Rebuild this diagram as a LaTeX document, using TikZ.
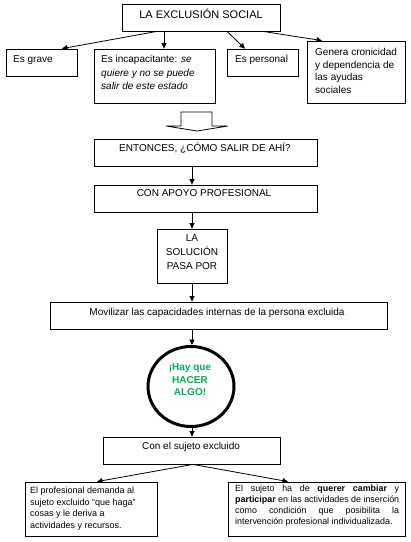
\documentclass[tikz,border=0pt]{standalone}
\usepackage{fontspec}
\setmainfont{Liberation Sans}
\usetikzlibrary{arrows.meta,shapes.geometric}
\definecolor{hacergreen}{RGB}{0,176,80}
\begin{document}
\begin{tikzpicture}[x=1pt,y=-1pt,
  box/.style={draw=black,line width=0.8pt,inner sep=0pt,rectangle},
  arr/.style={line width=0.8pt,-{Triangle[length=5.5pt,width=5pt]}},
  txt/.style={inner sep=0pt,font=\fontsize{10}{13}\selectfont},
  small/.style={inner sep=0pt,font=\fontsize{9}{11.7}\selectfont}]
\useasboundingbox (0,0) rectangle (411,542);
\fill[white] (0,0) rectangle (411,542);
% boxes
\node[box,minimum width=158,minimum height=27] (title) at (201,17.5) {};
\node[box,minimum width=71,minimum height=27] (grave) at (41.5,62.5) {};
\node[box,minimum width=121,minimum height=54] (incap) at (154.5,76) {};
\node[box,minimum width=71,minimum height=27] (pers) at (262.5,62.5) {};
\node[box,minimum width=98,minimum height=62] (gen) at (356,72) {};
\node[box,minimum width=223,minimum height=27] (ent) at (205.5,152.5) {};
\node[box,minimum width=223,minimum height=27] (apo) at (205.5,198.5) {};
\node[box,minimum width=70,minimum height=54] (sol) at (192,256) {};
\node[box,minimum width=337,minimum height=27] (mov) at (218.5,315.5) {};
\node[draw=black,line width=3pt,ellipse,inner sep=0pt,minimum width=86,minimum height=80] (ell) at (191,386.5) {};
\node[box,minimum width=177,minimum height=27] (con) at (191.5,450.5) {};
\node[box,minimum width=132,minimum height=54] (left) at (91,509) {};
\node[box,minimum width=177,minimum height=54] (right) at (316.5,509) {};
% block arrow
\draw[line width=0.8pt,fill=white] (181,112) -- (212,112) -- (212,126) -- (228,126) -- (197,131) -- (166,126) -- (181,126) -- cycle;
% texts
\node[txt,font=\fontsize{11}{13}\selectfont,anchor=base] (ttitle) at (201,18) {LA EXCLUSIÓN SOCIAL};
\node[txt,anchor=base west] (tgrave) at (13,62.6) {Es grave};
\node[txt,anchor=north west,align=left,font=\fontsize{10}{13.5}\selectfont] (tincap) at (101,53.2) {\strut Es incapacitante: \textit{se}\\\textit{quiere y no se puede}\\\textit{salir de este estado}};
\node[txt,anchor=base west] (tpers) at (235,62.3) {Es personal};
\node[txt,anchor=north west,align=left,font=\fontsize{10}{12.5}\selectfont] (tgen) at (315,46.9) {\strut Genera cronicidad\\y dependencia de\\las ayudas\\sociales};
\node[txt,anchor=base] (tent) at (205,151.6) {ENTONCES, ¿CÓMO SALIR DE AHÍ?};
\node[txt,anchor=base] (tapo) at (204,196.8) {CON APOYO PROFESIONAL};
\node[txt,anchor=north,align=center,font=\fontsize{10}{14}\selectfont] (tsol) at (192,231.8) {\strut LA\\SOLUCIÓN\\PASA POR};
\node[txt,anchor=base] (tmov) at (217,315.6) {Movilizar las capacidades internas de la persona excluida};
\node[txt,anchor=north,align=center,text=hacergreen,font=\fontsize{10}{12.5}\selectfont\bfseries] (tell) at (190,361.9) {\strut ¡Hay que\\HACER\\ALGO!};
\node[txt,anchor=base] (tcon) at (191,449.6) {Con el sujeto excluido};
\node[small,anchor=north west,align=left] (tleft) at (30,485) {\strut El profesional demanda al\\sujeto excluido “que haga”\\cosas y le deriva a\\actividades y recursos.};
\node[small,anchor=north west,text width=164pt,align=justify,font=\fontsize{8.9}{11}\selectfont] (tright) at (235,484) {\strut El sujeto ha de \textbf{querer cambiar} y\linebreak \textbf{participar} en las actividades de inserción\linebreak como condición que posibilita la\linebreak intervención profesional individualizada.};
% connectors
\draw[arr] ([xshift=-44pt]title.south) -- ([xshift=20.5pt]grave.north);
\draw[arr] ([xshift=-37pt]title.south) -- ([xshift=9.5pt]incap.north);
\draw[arr] ([xshift=26pt]title.south) -- ([xshift=-17.5pt]pers.north);
\draw[arr] ([xshift=62pt]title.south) -- ([xshift=-34pt]gen.north);
\draw[arr] (ent.south -| sol.north) -- (apo.north -| sol.north);
\draw[arr] (apo.south -| sol.north) -- (sol.north);
\draw[arr] (sol.south) -- (mov.north -| sol.south);
\draw[arr] (mov.south -| sol.south) -- (ell.north -| sol.south);
\draw[arr] (ell.south -| sol.south) -- (con.north -| sol.south);
\draw[arr] ([xshift=1.5pt]con.south) -- ([xshift=6pt]left.north);
\draw[arr] ([xshift=1.5pt]con.south) -- ([xshift=-28.5pt]right.north);
\end{tikzpicture}
\end{document}
